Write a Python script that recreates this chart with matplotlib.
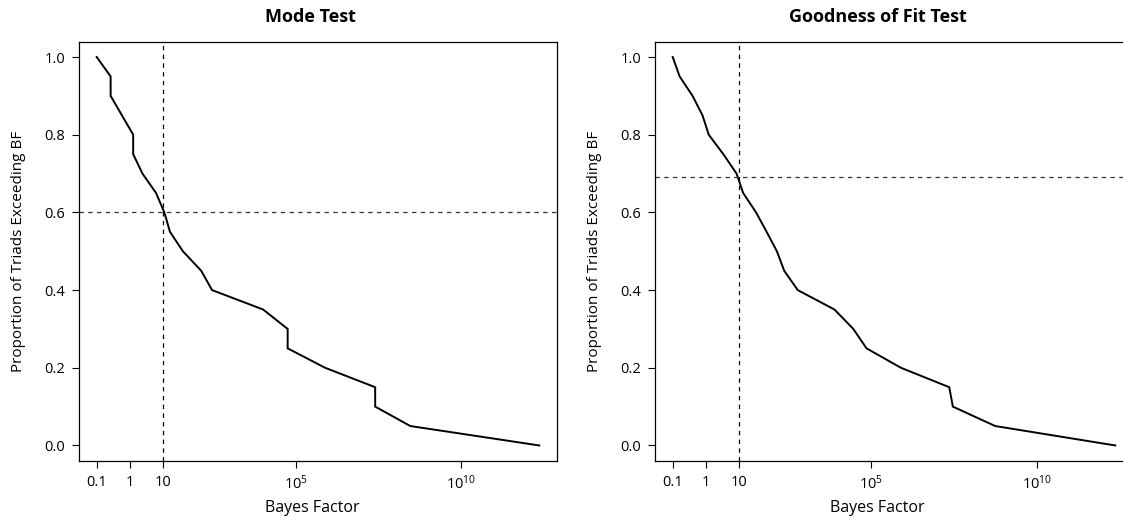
import numpy as np
import matplotlib
matplotlib.use('Agg')
import matplotlib.pyplot as plt

plt.rcParams['font.family'] = ['Open Sans', 'DejaVu Sans']
plt.rcParams['mathtext.fontset'] = 'custom'
plt.rcParams['mathtext.rm'] = 'Open Sans'
plt.rcParams['mathtext.it'] = 'Open Sans'

# log10(Bayes factor) and proportion of triads
mode_log_bf = [-1.0, -0.58, -0.58, -0.24, 0.1, 0.1, 0.38, 0.79, 1.04, 1.21, 1.6,
               2.15, 2.48, 4.02, 4.76, 4.76, 5.89, 7.40, 7.40, 8.46, 12.35]
mode_prop = [1.00, 0.95, 0.90, 0.85, 0.80, 0.75, 0.70, 0.65, 0.60, 0.55, 0.50,
             0.45, 0.40, 0.35, 0.30, 0.25, 0.20, 0.15, 0.10, 0.05, 0.00]

gof_log_bf = [-1.0, -0.79, -0.40, -0.10, 0.09, 0.53, 0.93, 1.13, 1.52, 1.84, 2.15,
              2.37, 2.78, 3.89, 4.46, 4.86, 5.90, 7.36, 7.47, 8.75, 12.38]
gof_prop = [1.00, 0.95, 0.90, 0.85, 0.80, 0.75, 0.70, 0.65, 0.60, 0.55, 0.50,
            0.45, 0.40, 0.35, 0.30, 0.25, 0.20, 0.15, 0.10, 0.05, 0.00]

titles = ['Mode Test', 'Goodness of Fit Test']
hlines = [0.60, 0.69]
vline = 10
x_ticks = [0.1, 1, 10, 1e5, 1e10]
x_tick_labels = ['0.1', '1', '10', r'$10^{5}$', r'$10^{10}$']
y_ticks = [0.0, 0.2, 0.4, 0.6, 0.8, 1.0]


def draw_panel(ax, log_bf, prop, hline):
    bf = 10.0 ** np.array(log_bf)
    ax.plot(bf, prop, color='black', lw=1.4, solid_joinstyle='miter')
    ax.set_xscale('log')
    lo, hi = min(log_bf), max(log_bf)
    pad = 0.04 * (hi - lo)
    ax.set_xlim(10 ** (lo - pad), 10 ** (hi + pad))
    ax.set_ylim(-0.04, 1.04)
    ax.axvline(vline, color='black', lw=0.9, ls=(0, (3.5, 3.5)))
    ax.axhline(hline, color='#333333', lw=0.9, ls=(0, (3.5, 3.5)))
    ax.set_xticks(x_ticks)
    ax.set_xticklabels(x_tick_labels)
    ax.minorticks_off()
    ax.set_yticks(y_ticks)
    ax.set_yticklabels(['%.1f' % v for v in y_ticks])
    ax.tick_params(direction='out', length=5, width=0.8, labelsize=10.5, pad=5)
    for s in ax.spines.values():
        s.set_linewidth(0.9)


fig = plt.figure(figsize=(11.23, 5.17), dpi=100)
W, H = 1123, 517
ax1 = fig.add_axes([79 / W, 1 - 461 / H, 478 / W, 419.5 / H])
ax2 = fig.add_axes([655 / W, 1 - 461 / H, 478 / W, 419.5 / H])

draw_panel(ax1, mode_log_bf, mode_prop, hlines[0])
draw_panel(ax2, gof_log_bf, gof_prop, hlines[1])

# titles and labels placed where the reference has them
fig.text(310 / W, 1 - 17 / H, titles[0], ha='center', va='center', fontsize=13, fontweight='bold')
fig.text(878 / W, 1 - 17 / H, titles[1], ha='center', va='center', fontsize=13, fontweight='bold')
fig.text(312 / W, 1 - 508 / H, 'Bayes Factor', ha='center', va='center', fontsize=11.5)
fig.text(877 / W, 1 - 508 / H, 'Bayes Factor', ha='center', va='center', fontsize=11.5)
fig.text(19 / W, 1 - 251 / H, 'Proportion of Triads Exceeding BF', ha='center', va='center',
         rotation=90, fontsize=11)
fig.text(595 / W, 1 - 251 / H, 'Proportion of Triads Exceeding BF', ha='center', va='center',
         rotation=90, fontsize=11)

fig.savefig('out.png', dpi=100)
